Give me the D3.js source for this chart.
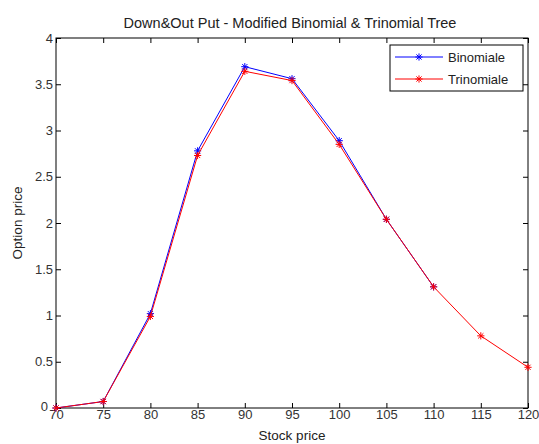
<!DOCTYPE html>
<html>
<head>
<meta charset="utf-8">
<script src="https://cdn.jsdelivr.net/npm/d3@7"></script>
<style>
  body { margin: 0; background: #fff; }
  svg { display: block; font-family: "Liberation Sans", Arial, sans-serif; }
</style>
</head>
<body>
<script>
// data
const stockPrices = [70, 75, 80, 85, 90, 95, 100, 105, 110, 115, 120];
const binomiale = [0, 0.07, 1.02, 2.78, 3.69, 3.56, 2.89, 2.04, 1.31];
const trinomiale = [0, 0.07, 0.99, 2.73, 3.64, 3.54, 2.85, 2.04, 1.31, 0.78, 0.44];
const xTicks = [70, 75, 80, 85, 90, 95, 100, 105, 110, 115, 120];
const yTicks = [0, 0.5, 1, 1.5, 2, 2.5, 3, 3.5, 4];

const series = [
  {name: "Binomiale", color: "#0000ff", values: binomiale},
  {name: "Trinomiale", color: "#ff0000", values: trinomiale}
];

width = 539;
height = 444;
margin = {top: 38, right: 11, bottom: 36, left: 56};

const svg = d3.select("body").append("svg")
    .attr("width", width)
    .attr("height", height);

const x = d3.scaleLinear().domain([70, 120]).range([margin.left, width - margin.right]);
const y = d3.scaleLinear().domain([0, 4]).range([height - margin.bottom, margin.top]);

// plot box
svg.append("rect")
    .attr("x", x(70)).attr("y", y(4))
    .attr("width", x(120) - x(70)).attr("height", y(0) - y(4))
    .attr("fill", "#fff").attr("stroke", "#000").attr("stroke-width", 1);

// axes, ticks pointing inward
const fmt = d => String(d);
const axB = svg.append("g").attr("transform", `translate(0,${y(0)})`)
    .call(d3.axisBottom(x).tickValues(xTicks).tickSize(-5).tickPadding(2).tickFormat(fmt));
const axT = svg.append("g").attr("transform", `translate(0,${y(4)})`)
    .call(d3.axisTop(x).tickValues(xTicks).tickSize(-5).tickFormat(""));
const axL = svg.append("g").attr("transform", `translate(${x(70)},0)`)
    .call(d3.axisLeft(y).tickValues(yTicks).tickSize(-5).tickPadding(3).tickFormat(fmt));
const axR = svg.append("g").attr("transform", `translate(${x(120)},0)`)
    .call(d3.axisRight(y).tickValues(yTicks).tickSize(-5).tickFormat(""));

[axB, axT, axL, axR].forEach(a => {
  a.select(".domain").remove();
  a.selectAll("line").attr("stroke", "#000");
  a.selectAll("text").attr("fill", "#333").style("font-size", "13px");
});

// keep the "0" label clear of the "70" label
axL.selectAll(".tick text").filter(d => d === 0).attr("x", -8).attr("dy", "0.2em");

// axis titles
svg.append("text")
    .attr("x", (x(70) + x(120)) / 2).attr("y", 440)
    .attr("text-anchor", "middle")
    .attr("fill", "#222")
    .style("font-size", "13.5px")
    .text("Stock price");

svg.append("text")
    .attr("transform", `translate(22,${(y(0) + y(4)) / 2}) rotate(-90)`)
    .attr("text-anchor", "middle")
    .attr("fill", "#222")
    .style("font-size", "13.5px")
    .text("Option price");

svg.append("text")
    .attr("x", 290).attr("y", 28)
    .attr("text-anchor", "middle")
    .attr("fill", "#222")
    .style("font-size", "14.5px")
    .text("Down&Out Put - Modified Binomial & Trinomial Tree");

// star marker like matlab '*'
function star(g, cx, cy, color) {
  const s = 3.6, d = 2.6;
  g.append("path")
      .attr("d", `M${cx - s},${cy}H${cx + s}M${cx},${cy - s}V${cy + s}` +
                 `M${cx - d},${cy - d}L${cx + d},${cy + d}M${cx - d},${cy + d}L${cx + d},${cy - d}`)
      .attr("stroke", color).attr("stroke-width", 1).attr("fill", "none");
}

const line = d3.line()
    .x((d, i) => x(stockPrices[i]))
    .y(d => y(d));

series.forEach(s => {
  const g = svg.append("g");
  g.append("path")
      .datum(s.values)
      .attr("d", line)
      .attr("fill", "none")
      .attr("stroke", s.color)
      .attr("stroke-width", 1);
  s.values.forEach((v, i) => star(g, x(stockPrices[i]), y(v), s.color));
});

// legend
const lg = svg.append("g");
lg.append("rect")
    .attr("x", 390).attr("y", 45).attr("width", 133).attr("height", 46)
    .attr("fill", "#fff").attr("stroke", "#000").attr("stroke-width", 1);
series.forEach((s, i) => {
  const ly = 57 + i * 22;
  lg.append("line")
      .attr("x1", 395).attr("x2", 443).attr("y1", ly).attr("y2", ly)
      .attr("stroke", s.color);
  star(lg, 419, ly, s.color);
  lg.append("text")
      .attr("x", 448).attr("y", ly + 5)
      .attr("fill", "#222")
      .style("font-size", "13px")
      .text(s.name);
});
</script>
</body>
</html>
